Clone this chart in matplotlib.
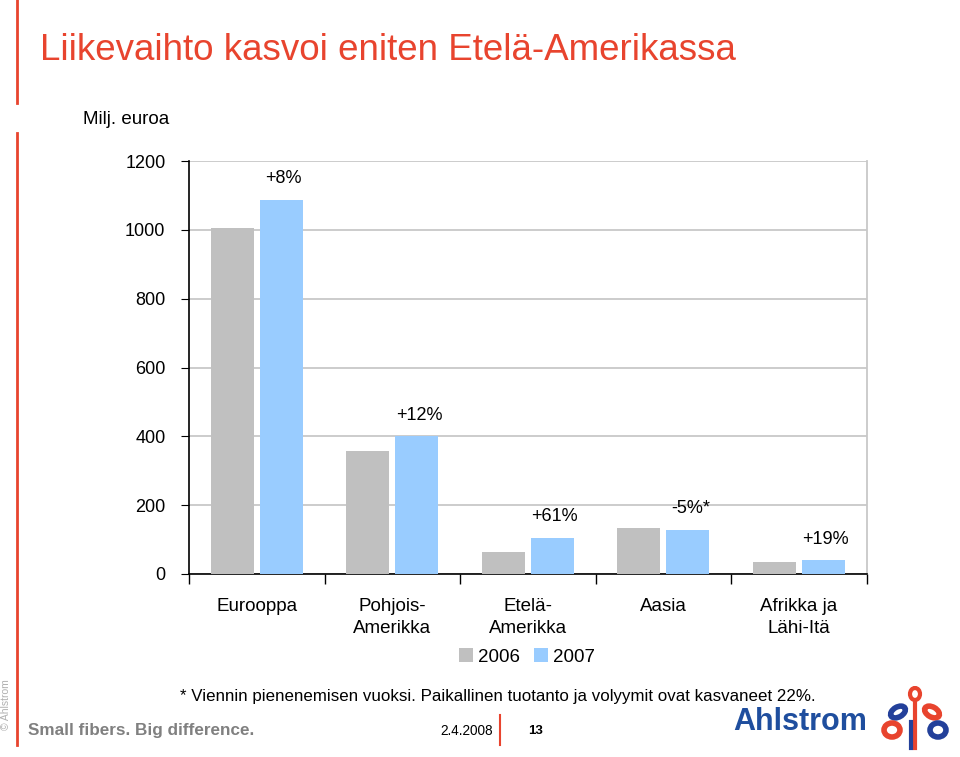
import numpy as np
import matplotlib.pyplot as plt
from matplotlib.patches import Ellipse
from matplotlib.lines import Line2D

plt.rcParams['font.family'] = ['Liberation Sans', 'DejaVu Sans']

regions = ['Eurooppa', 'Pohjois-\nAmerikka', 'Etelä-\nAmerikka', 'Aasia', 'Afrikka ja\nLähi-Itä']
sales_2006 = [1005, 357, 65, 135, 34]
sales_2007 = [1087, 400, 105, 128, 40]
changes = ['+8%', '+12%', '+61%', '-5%*', '+19%']
years = ['2006', '2007']
yticks = [0, 200, 400, 600, 800, 1000, 1200]

grey = '#C0C0C0'
blue = '#99CCFF'
red = '#E8442E'

fig = plt.figure(figsize=(9.6, 7.57), dpi=100)

# title + red side bars
fig.text(40 / 960, 1 - 50 / 757, 'Liikevaihto kasvoi eniten Etelä-Amerikassa',
         color=red, fontsize=26.5, va='center', ha='left')
fig.add_artist(Line2D([17 / 960, 17 / 960], [1, 1 - 103 / 757], color=red, lw=2))
fig.add_artist(Line2D([17 / 960, 17 / 960], [1 - 133 / 757, 1 - 745 / 757], color=red, lw=2))
fig.text(83 / 960, 1 - 119 / 757, 'Milj. euroa', fontsize=13.5, va='center', ha='left')

ax = fig.add_axes([189 / 960, 1 - 574 / 757, 677.5 / 960, 413 / 757])
x = np.arange(len(regions))
w = 0.318
ax.bar(x - 0.18, sales_2006, w, color=grey, label=years[0], zorder=3)
b2 = ax.bar(x + 0.18, sales_2007, w, color=blue, label=years[1], zorder=3)

for rect, txt in zip(b2, changes):
    ax.annotate(txt, (rect.get_x() + rect.get_width() / 2 + 0.02, rect.get_height()),
                xytext=(0, 9), textcoords='offset points', ha='center', va='bottom',
                fontsize=13)

ax.set_ylim(0, 1200)
ax.set_xlim(-0.5, len(regions) - 0.5)
ax.set_yticks(yticks)
ax.tick_params(axis='y', labelsize=13, length=6, direction='out', pad=11)
ax.yaxis.grid(True, color='#C8C8C8', lw=1.3, zorder=0)

ax.set_xticks(x)
ax.set_xticklabels(regions, fontsize=13.5, linespacing=1.45)
ax.tick_params(axis='x', length=0, pad=17)
ax.set_xticks(np.arange(-0.5, len(regions)), minor=True)
ax.tick_params(axis='x', which='minor', length=7, width=1, direction='out')

ax.spines['top'].set_visible(False)
ax.spines['right'].set_color('#C8C8C8')
ax.spines['right'].set_linewidth(1.3)
ax.spines['left'].set_linewidth(1.2)
ax.spines['bottom'].set_linewidth(1.2)

fig.legend(loc='center', bbox_to_anchor=(527 / 960, 1 - 657 / 757), ncol=2,
           frameon=False, fontsize=13.5, handlelength=0.75, handleheight=0.75,
           handletextpad=0.3, columnspacing=0.7)

# footnote and footer
fig.text(180 / 960, 1 - 697 / 757,
         '* Viennin pienenemisen vuoksi. Paikallinen tuotanto ja volyymit ovat kasvaneet 22%.',
         fontsize=12.2, va='center', ha='left')
fig.text(28 / 960, 1 - 730 / 757, 'Small fibers. Big difference.', fontsize=12.3,
         color='#808080', fontweight='bold', va='center', ha='left')
fig.text(440 / 960, 1 - 731 / 757, '2.4.2008', fontsize=9.8, va='center', ha='left')
fig.add_artist(Line2D([500 / 960, 500 / 960], [1 - 715 / 757, 1 - 745 / 757], color=red, lw=1.5))
fig.text(528 / 960, 1 - 731 / 757, '13', fontsize=9.5, fontweight='bold', va='center', ha='left')
fig.text(6 / 960, 1 - 705 / 757, '© Ahlstrom', fontsize=7.5, color='#B0B0B0',
         rotation=90, va='center', ha='center')

# logo
fig.text(733 / 960, 1 - 722 / 757, 'Ahlstrom', fontsize=22, color='#1F4E9E',
         fontweight='bold', va='center', ha='left')
lax = fig.add_axes([878 / 960, 1 - 752 / 757, 74 / 960, 66 / 757])
lax.set_xlim(0, 74)
lax.set_ylim(0, 66)
lax.axis('off')
navy = '#23409A'
lax.add_patch(Ellipse((37, 58), 10, 12, fill=False, ec=red, lw=3))
lax.add_patch(Ellipse((20, 40), 16, 10, angle=30, fill=False, ec=navy, lw=4))
lax.add_patch(Ellipse((54, 40), 16, 10, angle=-30, fill=False, ec=red, lw=4))
lax.add_patch(Ellipse((14, 22), 16, 14, fill=False, ec=red, lw=4))
lax.add_patch(Ellipse((60, 22), 16, 14, fill=False, ec=navy, lw=4))
lax.plot([37, 37], [4, 50], color=red, lw=3)
lax.plot([33, 33], [4, 30], color=navy, lw=3)

fig.savefig('out.png', dpi=100)
